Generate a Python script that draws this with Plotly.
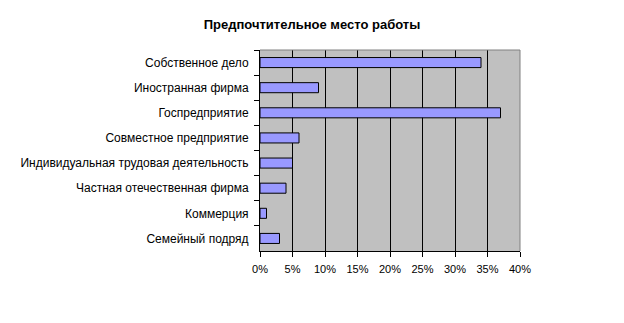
import plotly.graph_objects as go

categories = ["Собственное дело", "Иностранная фирма", "Госпредприятие",
              "Совместное предприятие", "Индивидуальная трудовая деятельность",
              "Частная отечественная фирма", "Коммерция", "Семейный подряд"]
values = [34, 9, 37, 6, 5, 4, 1, 3]
x_ticks = [0, 5, 10, 15, 20, 25, 30, 35, 40]
x_tick_labels = [f"{v}%" for v in x_ticks]

FONT = "Liberation Sans, Arial, sans-serif"

fig = go.Figure()
fig.add_trace(go.Bar(
    y=categories, x=values, orientation="h",
    marker=dict(color="#9999FF", line=dict(color="black", width=1)),
    width=0.4,
))

fig.update_layout(
    width=624, height=323,
    margin=dict(l=260, r=104, t=50, b=72),
    paper_bgcolor="white", plot_bgcolor="#C0C0C0",
    showlegend=False,
    font=dict(family=FONT, size=11, color="black"),
    title=dict(text="<b>Предпочтительное место работы</b>", x=0.5, xanchor="center",
               xref="container", y=1 - 24 / 323, yref="container", yanchor="middle",
               font=dict(family=FONT, size=13, color="black")),
    bargap=0.6,
)
fig.update_xaxes(
    range=[0, 40], tickmode="array", tickvals=x_ticks, ticktext=x_tick_labels,
    showgrid=True, gridcolor="black", gridwidth=1,
    showline=True, linecolor="black", linewidth=1,
    ticks="outside", ticklen=5, tickcolor="black", zeroline=False,
    ticklabelstandoff=3,
    tickfont=dict(family=FONT, size=11, color="black"),
)
fig.update_yaxes(
    autorange="reversed", showgrid=False,
    showline=True, linecolor="black", linewidth=1,
    ticks="outside", ticklen=5, tickcolor="black", tickson="boundaries",
    ticklabelstandoff=8,
    tickfont=dict(family=FONT, size=12, color="black"),
)
# gray border on top and right
fig.add_shape(type="line", xref="paper", yref="paper", x0=0, x1=1, y0=1, y1=1,
              line=dict(color="#808080", width=1), layer="above")
fig.add_shape(type="line", xref="paper", yref="paper", x0=1, x1=1, y0=0, y1=1,
              line=dict(color="#808080", width=1), layer="above")

fig.write_html("out.html")
